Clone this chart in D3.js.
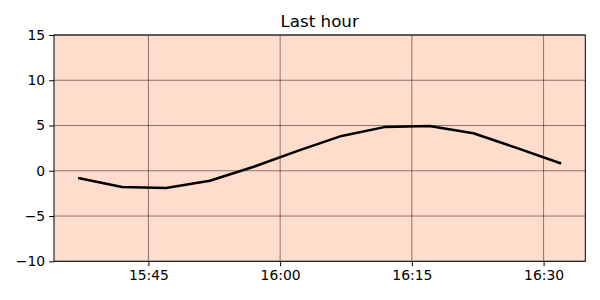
<!DOCTYPE html>
<html><head><meta charset="utf-8">
<script src="https://cdn.jsdelivr.net/npm/d3@7"></script>
<style>body{margin:0;background:#fff}svg{display:block}text{font-family:"DejaVu Sans",sans-serif}</style>
</head><body><svg id="c" width="600" height="300"></svg>
<script>
const times = ["15:37","15:42","15:47","15:52","15:57","16:02","16:07","16:12","16:17","16:22","16:27","16:32"];
const values = [-0.8,-1.8,-1.9,-1.1,0.45,2.2,3.85,4.85,4.95,4.15,2.5,0.8];
const yTicks = [-10,-5,0,5,10,15];
const xTickLabels = ["15:45","16:00","16:15","16:30"];
const title = "Last hour";

const parse = s => { const [h,m] = s.split(":").map(Number); return new Date(2024,0,1,h,m); };
const data = times.map((t,i)=>({t:parse(t), v:values[i]}));
const svg = d3.select("#c");
const L=54, R=585.3, T=35, B=261.3;
const ext = d3.extent(data,d=>d.t);
const span = ext[1]-ext[0];
const x = d3.scaleTime().domain([new Date(+ext[0]-span*0.05), new Date(+ext[1]+span*0.05)]).range([L,R]);
const y = d3.scaleLinear().domain([-10,15]).range([B,T]);

svg.append("rect").attr("x",L).attr("y",T).attr("width",R-L).attr("height",B-T).attr("fill","#ffddcc");

const xt = xTickLabels.map(parse);
const g = svg.append("g");
g.selectAll(".gx").data(xt).join("line").attr("x1",d=>x(d)).attr("x2",d=>x(d)).attr("y1",T).attr("y2",B)
  .attr("stroke","#000").attr("stroke-opacity",0.6).attr("stroke-width",0.8);
g.selectAll(".gy").data(yTicks).join("line").attr("y1",d=>y(d)).attr("y2",d=>y(d)).attr("x1",L).attr("x2",R)
  .attr("stroke","#000").attr("stroke-opacity",0.6).attr("stroke-width",0.8);

svg.append("path").datum(data).attr("fill","none").attr("stroke","#000").attr("stroke-width",2.5)
  .attr("stroke-linejoin","round").attr("d",d3.line().x(d=>x(d.t)).y(d=>y(d.v)));

svg.append("rect").attr("x",L).attr("y",T).attr("width",R-L).attr("height",B-T).attr("fill","none").attr("stroke","#000").attr("stroke-width",1);

const xa = svg.append("g").attr("transform",`translate(0,${B})`)
  .call(d3.axisBottom(x).tickValues(xt).tickFormat(d3.timeFormat("%H:%M")).tickSize(4.9).tickPadding(4));
const ya = svg.append("g").attr("transform",`translate(${L},0)`)
  .call(d3.axisLeft(y).tickValues(yTicks).tickFormat(d=>d<0?"\u2212"+Math.abs(d):d).tickSize(4.9).tickPadding(4));
[xa,ya].forEach(a=>{a.select(".domain").remove();a.selectAll("text").attr("font-size",13.9).attr("fill","#000").attr("font-family","DejaVu Sans");a.selectAll("line").attr("stroke","#000").attr("stroke-width",1);});

svg.append("text").attr("x",(L+R)/2).attr("y",27).attr("text-anchor","middle").attr("font-size",16.7).attr("fill","#000").text(title);
</script></body></html>
